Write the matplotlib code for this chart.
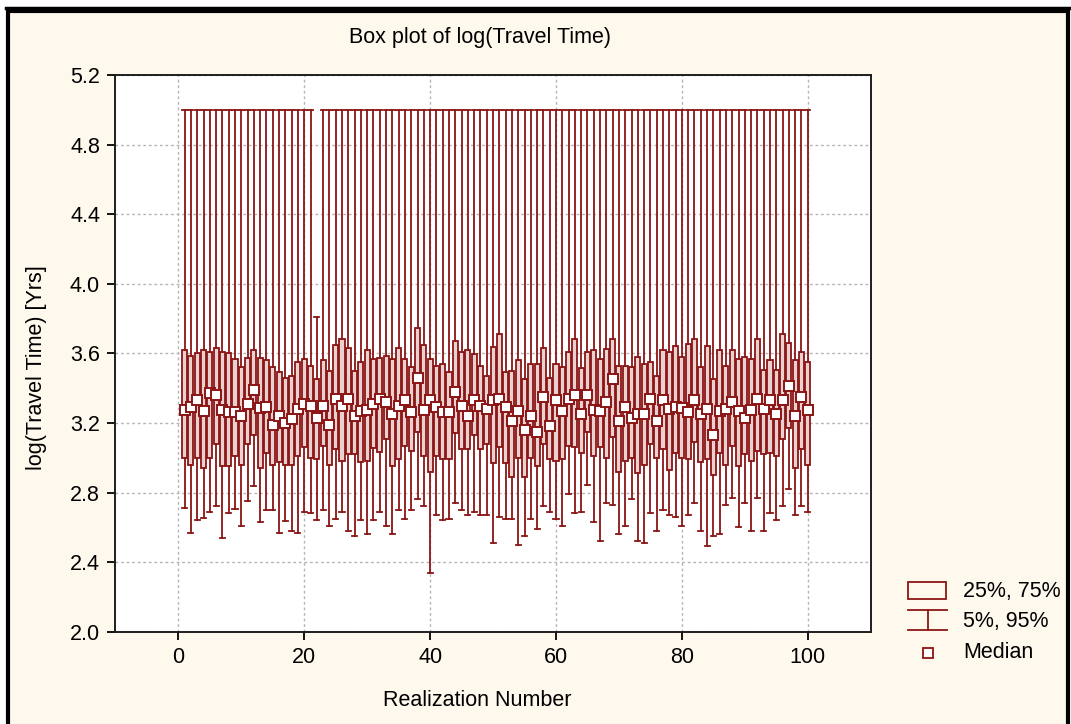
import numpy as np
import matplotlib
matplotlib.use("Agg")
import matplotlib.pyplot as plt
from matplotlib.patches import Rectangle

plt.rcParams["font.family"] = ["Liberation Sans", "DejaVu Sans"]

# per-realization statistics of log(travel time)
realization = np.arange(1, 101)

p25 = [3.00, 2.96, 3.00, 2.94, 3.00, 3.08, 2.95, 2.95, 3.01, 2.96,
       3.08, 3.13, 2.94, 3.03, 2.96, 2.975, 2.96, 2.96, 3.01, 3.06,
       3.00, 2.99, 3.065, 2.96, 3.05, 2.98, 3.02, 3.02, 2.975, 2.98,
       3.055, 3.035, 3.11, 2.95, 2.99, 3.07, 3.04, 3.15, 3.01, 2.92,
       3.01, 2.99, 2.99, 3.14, 3.05, 3.05, 3.13, 3.05, 3.08, 2.97,
       3.06, 2.97, 2.89, 3.00, 2.89, 3.00, 2.95, 3.08, 2.99, 2.98,
       2.99, 3.07, 3.06, 3.03, 3.15, 3.01, 3.06, 3.00, 3.12, 2.92,
       2.98, 3.00, 2.91, 2.96, 3.08, 3.00, 3.05, 2.93, 3.03, 3.00,
       2.99, 3.09, 2.975, 2.99, 2.90, 3.03, 2.96, 3.07, 2.95, 3.02,
       2.98, 3.04, 3.02, 3.03, 3.01, 3.11, 3.17, 2.94, 3.05, 2.96]

p75 = [3.62, 3.587, 3.60, 3.62, 3.61, 3.63, 3.61, 3.60, 3.565, 3.52,
       3.576, 3.62, 3.571, 3.562, 3.52, 3.49, 3.46, 3.47, 3.55, 3.57,
       3.53, 3.45, 3.56, 3.50, 3.65, 3.68, 3.63, 3.50, 3.55, 3.62,
       3.57, 3.575, 3.587, 3.57, 3.63, 3.57, 3.52, 3.745, 3.65, 3.57,
       3.53, 3.54, 3.49, 3.67, 3.61, 3.62, 3.595, 3.53, 3.47, 3.635,
       3.71, 3.49, 3.50, 3.56, 3.45, 3.54, 3.54, 3.63, 3.46, 3.54,
       3.52, 3.605, 3.685, 3.515, 3.605, 3.62, 3.57, 3.624, 3.68, 3.53,
       3.53, 3.52, 3.58, 3.54, 3.55, 3.47, 3.62, 3.605, 3.64, 3.58,
       3.655, 3.68, 3.52, 3.64, 3.45, 3.62, 3.53, 3.62, 3.57, 3.58,
       3.565, 3.68, 3.505, 3.56, 3.505, 3.71, 3.66, 3.56, 3.61, 3.55]

median = [3.275, 3.29, 3.33, 3.27, 3.37, 3.36, 3.275, 3.26, 3.265, 3.24,
          3.31, 3.39, 3.285, 3.29, 3.19, 3.24, 3.20, 3.22, 3.28, 3.31,
          3.30, 3.23, 3.30, 3.19, 3.34, 3.30, 3.34, 3.24, 3.27, 3.275,
          3.31, 3.34, 3.32, 3.25, 3.30, 3.33, 3.26, 3.46, 3.275, 3.33,
          3.29, 3.26, 3.26, 3.38, 3.30, 3.24, 3.33, 3.30, 3.28, 3.33,
          3.34, 3.29, 3.21, 3.27, 3.16, 3.24, 3.15, 3.35, 3.18, 3.33,
          3.27, 3.34, 3.36, 3.25, 3.36, 3.275, 3.27, 3.32, 3.45, 3.21,
          3.29, 3.23, 3.25, 3.25, 3.34, 3.21, 3.33, 3.28, 3.29, 3.285,
          3.265, 3.33, 3.25, 3.28, 3.13, 3.27, 3.28, 3.32, 3.27, 3.23,
          3.275, 3.34, 3.28, 3.33, 3.25, 3.33, 3.41, 3.24, 3.35, 3.275]

p05 = [2.71, 2.57, 2.64, 2.655, 2.69, 2.72, 2.54, 2.68, 2.705, 2.61,
       2.75, 2.835, 2.63, 2.70, 2.70, 2.57, 2.635, 2.58, 2.57, 2.69,
       2.68, 2.64, 2.70, 2.61, 2.65, 2.69, 2.58, 2.55, 2.64, 2.56,
       2.64, 2.69, 2.605, 2.56, 2.70, 2.65, 2.70, 2.76, 2.72, 2.34,
       2.67, 2.64, 2.65, 2.74, 2.70, 2.67, 2.69, 2.67, 2.67, 2.51,
       2.66, 2.65, 2.65, 2.50, 2.55, 2.65, 2.59, 2.72, 2.69, 2.65,
       2.61, 2.79, 2.68, 2.69, 2.845, 2.63, 2.52, 2.74, 2.73, 2.56,
       2.61, 2.76, 2.52, 2.51, 2.68, 2.58, 2.70, 2.67, 2.66, 2.61,
       2.67, 2.74, 2.58, 2.49, 2.55, 2.56, 2.73, 2.77, 2.60, 2.74,
       2.58, 2.77, 2.58, 2.68, 2.64, 2.725, 2.82, 2.67, 2.72, 2.69]

# 95th percentile is capped at 5.0 except realization 22
p95 = [5.0] * 100
p95[21] = 3.81

xticks = [0, 20, 40, 60, 80, 100]
yticks = [2.0, 2.4, 2.8, 3.2, 3.6, 4.0, 4.4, 4.8, 5.2]

DARK_RED = "#8b1515"
BOX_FILL = "#ebd0d0"
CREAM = "#fff8ec"
FS = 15.5

W, H = 1071, 724
fig = plt.figure(figsize=(W / 100, H / 100), dpi=100, facecolor="white")

# overlay in pixel coordinates for the frame and legend
ov = fig.add_axes([0, 0, 1, 1], zorder=0)
ov.set_xlim(0, W)
ov.set_ylim(H, 0)
ov.axis("off")
ov.add_patch(Rectangle((8, 11), W - 11, H, facecolor=CREAM, edgecolor="black", lw=3))
ov.plot([6, W], [7.5, 7.5], color="black", lw=2.5)

ax = fig.add_axes([115.4 / W, 1 - 631.7 / H, (870.7 - 115.4) / W, (631.7 - 75) / H], zorder=2)
ax.set_facecolor("white")

stats = [dict(whislo=lo, q1=a, med=m, q3=b, whishi=hi, fliers=[])
         for lo, a, m, b, hi in zip(p05, p25, median, p75, p95)]
ax.bxp(stats, positions=realization, widths=0.8, capwidths=0.8,
       patch_artist=True, manage_ticks=False,
       boxprops=dict(facecolor=BOX_FILL, edgecolor=DARK_RED, linewidth=1.3),
       whiskerprops=dict(color=DARK_RED, linewidth=1.3),
       capprops=dict(color=DARK_RED, linewidth=1.3),
       medianprops=dict(visible=False))
for x, m in zip(realization, median):
    ax.plot(x, m, "s", ms=7.8, mfc="white", mec=DARK_RED, mew=1.4, zorder=4)

ax.set_xlim(-10, 110)
ax.set_ylim(2.0, 5.2)
ax.set_xticks(xticks)
ax.set_yticks(yticks)
ax.set_yticklabels([f"{v:.1f}" for v in yticks])
ax.grid(True, ls=(0, (2, 2)), color="#b5b5b5", lw=1)
ax.set_axisbelow(True)
ax.tick_params(direction="out", length=6, width=1.3, labelsize=FS, pad=5,
               top=False, right=False)
for s in ax.spines.values():
    s.set_color("#1e1e1e")
    s.set_linewidth(1.4)

fig.text(480 / W, 1 - 38 / H, "Box plot of log(Travel Time)", ha="center", va="center", fontsize=FS)
fig.text(477 / W, 1 - 700 / H, "Realization Number", ha="center", va="center", fontsize=FS)
fig.text(37 / W, 1 - 368 / H, "log(Travel Time) [Yrs]", ha="center", va="center",
         rotation=90, fontsize=FS)

# legend keys
ov.add_patch(Rectangle((908, 582), 38, 17, facecolor="none", edgecolor=DARK_RED, lw=1.3))
ov.plot([908, 947], [610, 610], color=DARK_RED, lw=1.3)
ov.plot([908, 947], [630, 630], color=DARK_RED, lw=1.3)
ov.plot([927.5, 927.5], [610, 630], color=DARK_RED, lw=1.3)
ov.plot(927.5, 653, "s", ms=7, mfc="white", mec=DARK_RED, mew=1.3)
for y, label in [(591, "25%, 75%"), (621, "5%, 95%"), (652, "Median")]:
    ov.text(963, y, label, ha="left", va="center", fontsize=FS)

fig.savefig("out.png", dpi=100, facecolor="white")
